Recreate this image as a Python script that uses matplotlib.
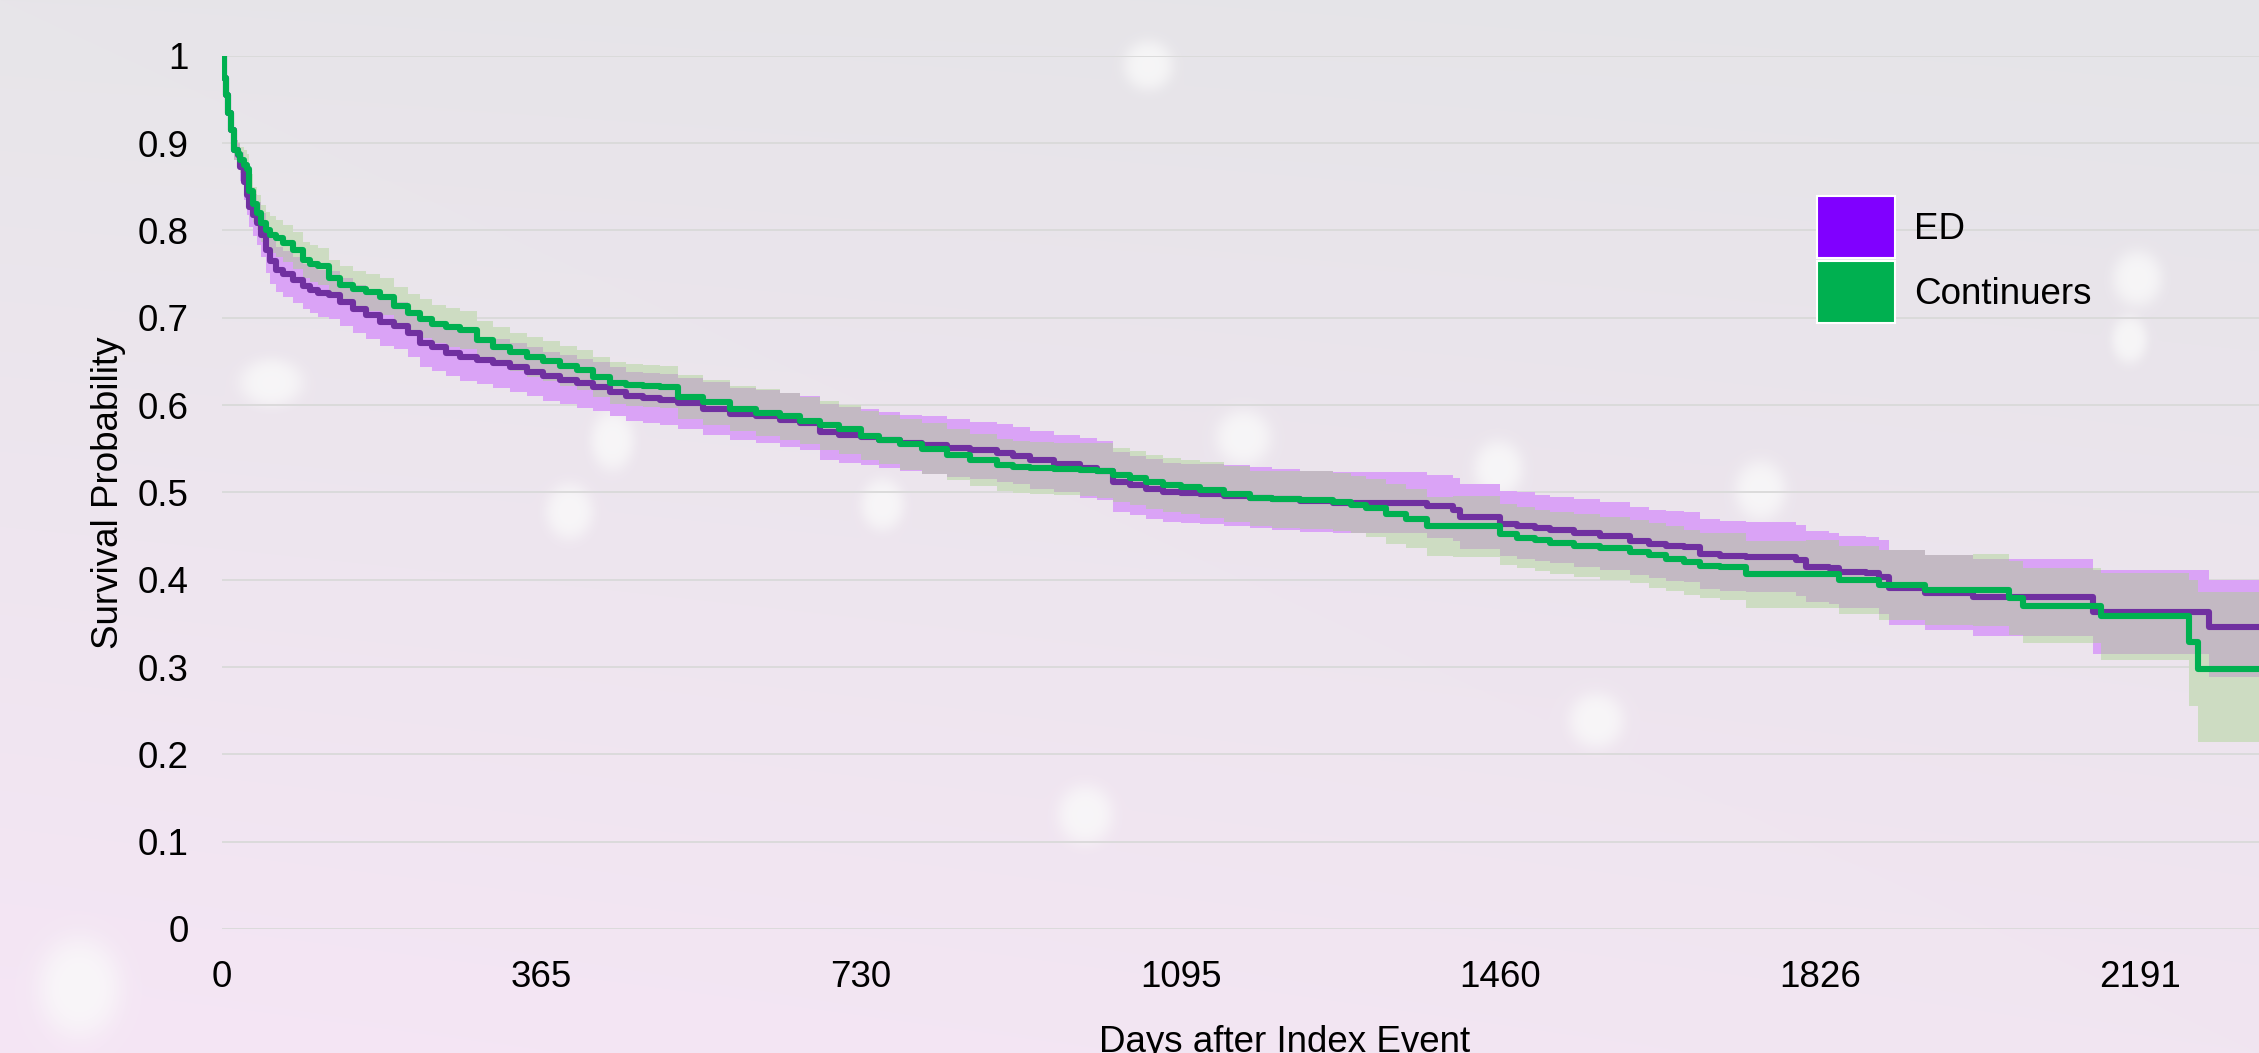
import numpy as np
import matplotlib
matplotlib.use('Agg')
import matplotlib.pyplot as plt
from matplotlib.patches import Patch

plt.rcParams['font.family'] = ['Liberation Sans', 'DejaVu Sans']

# Kaplan-Meier curves (days after index event)
days = [0, 2, 4, 7, 10, 14, 18, 21, 25, 28, 31, 35, 40, 45, 50, 55, 62, 70, 81, 92,
        100, 110, 122, 135, 150, 165, 180, 196, 212, 226, 240, 256, 272, 291, 310, 329,
        348, 367, 386, 405, 424, 443, 462, 481, 500, 521, 550, 580, 610, 637, 660, 683,
        705, 730, 751, 775, 800, 828, 855, 885, 904, 923, 950, 980, 1000, 1018, 1037,
        1055, 1075, 1095, 1117, 1145, 1174, 1200, 1231, 1269, 1290, 1307, 1330, 1353,
        1376, 1406, 1414, 1433, 1460, 1479, 1500, 1517, 1545, 1574, 1608, 1630, 1650,
        1670, 1688, 1711, 1741, 1798, 1809, 1836, 1847, 1878, 1893, 1904, 1946, 2000,
        2041, 2057, 2137, 2146, 2247, 2257, 2270, 2330]

ed_surv = [1.0, .975, .955, .934, .915, .892, .886, .873, .855, .840, .827, .818, .808, .795,
           .777, .765, .755, .750, .743, .736, .732, .728, .726, .718, .710, .703, .695, .691,
           .682, .671, .666, .660, .655, .651, .648, .643, .638, .633, .629, .625, .621, .615,
           .610, .608, .606, .602, .596, .590, .587, .583, .579, .569, .566, .563, .560, .557,
           .554, .551, .548, .545, .542, .537, .533, .528, .525, .512, .508, .504, .500, .499,
           .498, .496, .494, .492, .490, .488, .488, .488, .488, .488, .484, .480, .472, .472,
           .464, .462, .459, .457, .453, .450, .444, .441, .439, .437, .429, .427, .426, .422,
           .415, .413, .409, .408, .403, .391, .385, .380, .380, .380, .363, .363, .363, .363,
           .346, .346]
ed_lower = [1.0, .972, .951, .928, .907, .881, .872, .856, .835, .818, .804, .794, .783, .770,
            .751, .739, .729, .724, .717, .710, .705, .701, .699, .691, .683, .676, .668, .664,
            .655, .644, .639, .633, .628, .624, .620, .615, .610, .605, .601, .597, .593, .587,
            .582, .579, .577, .573, .566, .560, .557, .552, .548, .537, .534, .531, .528, .525,
            .521, .518, .515, .512, .509, .504, .500, .494, .491, .478, .474, .470, .466, .465,
            .464, .461, .459, .457, .455, .453, .453, .453, .453, .453, .448, .444, .435, .435,
            .427, .424, .421, .419, .414, .411, .405, .402, .399, .397, .389, .387, .386, .381,
            .374, .372, .368, .367, .361, .348, .342, .336, .336, .336, .315, .315, .315, .315,
            .289, .289]
ed_upper = [1.0, .978, .959, .940, .923, .903, .900, .890, .875, .862, .850, .842, .833, .820,
            .803, .791, .781, .776, .769, .762, .759, .755, .753, .745, .737, .730, .722, .718,
            .709, .698, .693, .687, .682, .678, .676, .671, .666, .661, .657, .653, .649, .643,
            .638, .637, .635, .631, .626, .620, .617, .614, .610, .601, .598, .595, .592, .589,
            .587, .584, .581, .578, .575, .570, .566, .562, .559, .546, .542, .538, .534, .533,
            .532, .531, .529, .527, .525, .523, .523, .523, .523, .523, .520, .516, .509, .509,
            .501, .500, .497, .495, .492, .489, .483, .480, .479, .477, .469, .467, .466, .463,
            .456, .454, .450, .449, .445, .434, .428, .424, .424, .424, .411, .411, .411, .411,
            .400, .400]

cont_surv = [1.0, .975, .955, .934, .915, .892, .888, .881, .875, .870, .845, .830, .820, .808,
             .800, .795, .791, .785, .777, .766, .762, .759, .745, .738, .733, .729, .724, .713,
             .705, .699, .693, .689, .686, .674, .667, .661, .655, .650, .645, .640, .632, .625,
             .623, .622, .621, .609, .603, .596, .591, .587, .582, .577, .572, .565, .560, .555,
             .550, .543, .537, .531, .529, .528, .527, .526, .525, .520, .516, .512, .508, .506,
             .503, .498, .493, .492, .491, .489, .486, .482, .475, .470, .461, .461, .461, .461,
             .452, .448, .445, .442, .439, .436, .432, .428, .424, .420, .416, .415, .406, .406,
             .406, .406, .400, .400, .394, .394, .388, .388, .379, .370, .370, .358, .329, .298,
             .298, .298]
cont_lower = [1.0, .972, .951, .928, .907, .881, .875, .866, .858, .852, .826, .810, .800, .787,
              .779, .774, .770, .764, .756, .745, .741, .738, .724, .717, .712, .708, .703, .691,
              .683, .677, .671, .667, .664, .652, .645, .639, .632, .627, .622, .617, .609, .601,
              .599, .598, .597, .584, .577, .570, .564, .560, .555, .549, .544, .537, .532, .526,
              .521, .514, .507, .501, .499, .498, .497, .496, .494, .489, .485, .481, .477, .475,
              .471, .466, .461, .459, .458, .456, .453, .449, .441, .436, .427, .426, .426, .426,
              .417, .413, .410, .406, .403, .400, .396, .391, .387, .383, .379, .377, .368, .368,
              .367, .367, .361, .361, .354, .354, .348, .347, .337, .327, .327, .308, .255, .214,
              .214, .214]
cont_upper = [1.0, .978, .959, .940, .923, .903, .901, .896, .892, .888, .864, .850, .840, .829,
              .821, .816, .812, .806, .798, .787, .783, .780, .766, .759, .754, .750, .745, .735,
              .727, .721, .715, .711, .708, .696, .689, .683, .678, .673, .668, .663, .655, .649,
              .647, .646, .645, .634, .629, .622, .618, .614, .609, .605, .600, .593, .588, .584,
              .579, .572, .567, .561, .559, .558, .557, .556, .556, .551, .547, .543, .539, .537,
              .535, .530, .525, .525, .524, .522, .519, .515, .509, .504, .495, .496, .496, .496,
              .487, .483, .480, .478, .475, .472, .468, .465, .461, .457, .453, .453, .444, .444,
              .445, .445, .439, .439, .434, .434, .428, .429, .421, .413, .413, .408, .400, .386,
              .386, .386]

group_names = ['ED', 'Continuers']
x_ticks = [0, 365, 730, 1095, 1460, 1826, 2191]
y_ticks = [0, 0.1, 0.2, 0.3, 0.4, 0.5, 0.6, 0.7, 0.8, 0.9, 1.0]
y_tick_labels = ['0', '0.1', '0.2', '0.3', '0.4', '0.5', '0.6', '0.7', '0.8', '0.9', '1']

ED_LINE = '#7030A0'
ED_FILL = '#DAA3F6'
ED_KEY = '#8000FF'
CONT_LINE = '#00B050'
CONT_FILL = '#CDDCC2'
OVERLAP_FILL = '#C3B9C3'

W, H = 2259, 1053
fig = plt.figure(figsize=(W / 100, H / 100), dpi=100)

# soft pink / lavender backdrop with a few blurred light spots
yy, xx = np.mgrid[0:H, 0:W]
fx = xx / W
fy = yy / H
tl = np.array([231, 229, 233]) / 255
tr = np.array([229, 228, 232]) / 255
bl = np.array([245, 230, 245]) / 255
br = np.array([241, 229, 241]) / 255
bg = (((1 - fx) * (1 - fy))[..., None] * tl + (fx * (1 - fy))[..., None] * tr
      + ((1 - fx) * fy)[..., None] * bl + (fx * fy)[..., None] * br)
spots = [(1148, 65, 25, 25), (271, 382, 32, 24), (569, 511, 24, 28), (612, 440, 22, 30),
         (882, 504, 22, 26), (1243, 437, 28, 28), (1498, 468, 25, 28), (1760, 490, 26, 30),
         (1596, 720, 28, 28), (1085, 814, 28, 30), (79, 987, 42, 50), (2137, 278, 25, 28),
         (2129, 339, 18, 24)]
for cx, cy, rx, ry in spots:
    d = ((xx - cx) / rx) ** 2 + ((yy - cy) / ry) ** 2
    m = 0.8 * np.exp(-d ** 2)
    bg = bg * (1 - m[..., None]) + m[..., None] * 0.98
bg_ax = fig.add_axes([0, 0, 1, 1], zorder=0)
bg_ax.imshow(bg, aspect='auto', extent=[0, 1, 0, 1])
bg_ax.axis('off')

ax = fig.add_axes([222 / W, 1 - 929 / H, 2037 / W, 873.3 / H], zorder=1)
ax.set_facecolor('none')

d = np.array(days)
ed_lo = np.array(ed_lower)
ed_hi = np.array(ed_upper)
co_lo = np.array(cont_lower)
co_hi = np.array(cont_upper)
ov_lo = np.maximum(ed_lo, co_lo)
ov_hi = np.maximum(np.minimum(ed_hi, co_hi), ov_lo)

ax.fill_between(d, ed_lo, ed_hi, step='post', color=ED_FILL, lw=0, zorder=2)
ax.fill_between(d, co_lo, co_hi, step='post', color=CONT_FILL, lw=0, zorder=2)
ax.fill_between(d, ov_lo, ov_hi, step='post', color=OVERLAP_FILL, lw=0, zorder=2)

ax.plot(d, ed_surv, drawstyle='steps-post', color=ED_LINE, lw=4.4, zorder=3)
ax.plot(d, cont_surv, drawstyle='steps-post', color=CONT_LINE, lw=4.4, zorder=4)

ax.set_xlim(0, 2327)
ax.set_ylim(0, 1)
ax.set_xticks(x_ticks)
ax.set_xticklabels([str(t) for t in x_ticks])
ax.set_yticks(y_ticks)
ax.set_yticklabels(y_tick_labels)
ax.tick_params(axis='both', length=0, labelsize=26.5)
ax.tick_params(axis='x', pad=22)
ax.tick_params(axis='y', pad=24)
ax.yaxis.grid(True, color='#D9D9D9', lw=1.3)
ax.set_axisbelow(True)
for s in ax.spines.values():
    s.set_visible(False)

ax.set_ylabel('Survival Probability', fontsize=26.5, va='center')
ax.yaxis.set_label_coords(-0.0555, 0.5)
ax.set_xlabel('Days after Index Event', fontsize=26.5, va='top')
ax.xaxis.set_label_coords(0.5214, -0.1098)

handles = [Patch(facecolor=ED_KEY, edgecolor='white', lw=1.5),
           Patch(facecolor=CONT_LINE, edgecolor='white', lw=1.5)]
fig.legend(handles, group_names, loc='upper left', bbox_to_anchor=(1817 / W, 1 - 196 / H),
           frameon=False, fontsize=26.5, handlelength=2.13, handleheight=2.22,
           labelspacing=0.08, handletextpad=0.5, borderpad=0, borderaxespad=0)

fig.savefig('out.png', dpi=100)
